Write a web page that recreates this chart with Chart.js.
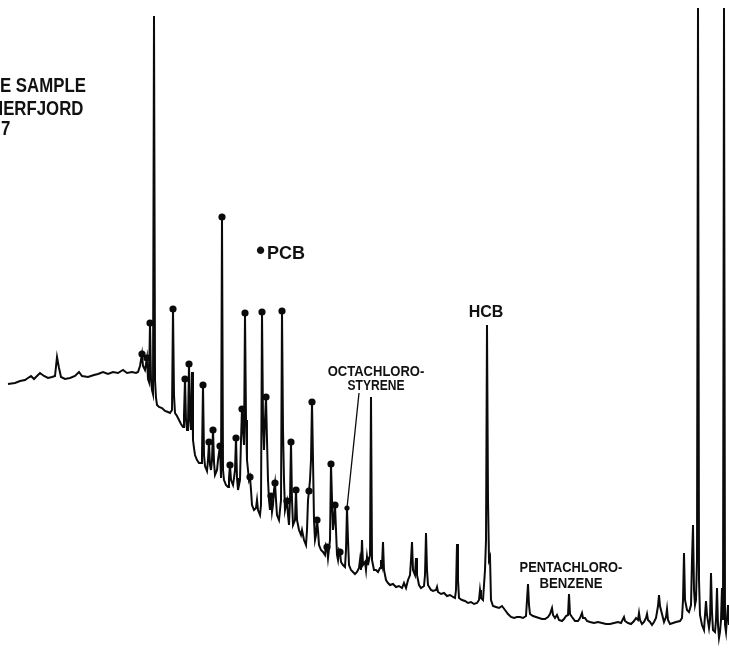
<!DOCTYPE html>
<html>
<head>
<meta charset="utf-8">
<script src="https://cdn.jsdelivr.net/npm/chart.js@4/dist/chart.umd.min.js"></script>
<style>
  html, body { margin: 0; padding: 0; background: #fff; }
  #wrap { position: relative; width: 729px; height: 651px; overflow: hidden; }
  canvas { position: absolute; left: 0; top: 0; }
  .lbl { position: absolute; font-family: "Liberation Sans", Arial, sans-serif; font-weight: bold;
         color: #111; line-height: 1; white-space: nowrap; }
</style>
</head>
<body>
<div id="wrap">
  <canvas id="c" width="729" height="651"></canvas>
</div>
<script>
// ---- Data (retention time in arbitrary units, detector response) ----
const retentionTime = [
  8,15,20,25,28,31,34,37,40,44,48,52,55,57,59,61,65,70,75,79,82,88,94,98,103,108,113,118,123,127,132,136,
  138,140,142,143,145,147,148,149,150,151,152,153,154,155,156,157,159,162,165,168,170,172,173,174,175,177,179,181,183,184,185,186,187,188,189,190,191,192,193,194,195,197,199,201,202,203,204,205,207,208,209,210,211,212,213,214,215,217,218,220,221,222,223,224,226,228,229,230,231,233,234,235,236,237,238,240,241,242,243,244,245,246,247,248,249,250,
  251,252,254,256,257,258,260,261,262,263,264,265,266,267,268,269,270,271,272,273,274,275,276,277,279,281,282,283,284,285,286,287,288,289,290,291,292,293,295,296,297,299,301,302,304,306,307,308,309,310,311,312,313,314,315,316,317,318,319,321,323,325,326,327,328,330,331,332,333,334,335,336,337,338,339,340,341,343,345,346,347,348,349,351,353,355,357,359,360,361,362,363,365,366,367,368,369,370,371,372,373,374,376,378,380,381,382,383,384,386,388,390,393,396,399,402,404,406,408,410,411,412,413,415,416,417,419,421,424,425,426,427,428,431,433,436,437,438,441,444,447,450,453,455,456,457,458,459,462,465,468,471,474,477,479,480,481,483,485,486,487,488,489,490,491,493,496,499,
  502,505,508,511,514,517,520,523,526,527,528,529,530,533,536,539,542,545,548,550,552,553,555,557,559,562,564,566,568,569,570,572,575,578,580,582,583,585,587,590,594,598,602,606,610,614,618,621,623,624,625,628,631,634,636,638,639,640,642,644,646,647,648,650,652,654,656,658,659,660,662,664,666,667,668,670,673,676,680,682,683,684,685,687,689,691,692,693,694,695,696,697,698,699,700,702,704,705,706,707,709,710,711,712,713,715,716,717,718,719,720,721,722,723,724,725,726,727,728,729
];
const response = [
  267,268,270,271,273,275,272,275,278,275,273,274,275,294,283,274,272,273,275,279,275,274,276,277,279,277,279,278,281,278,279,278,
  279,285,297,285,281,293,272,269,328,271,261,257,635,271,253,246,244,243,240,239,238,241,342,256,238,235,231,227,224,236,272,231,221,226,287,231,221,279,211,203,196,191,188,188,196,266,196,185,180,191,209,186,181,191,221,189,176,181,191,205,173,434,181,171,166,164,173,186,171,166,173,181,213,173,161,171,211,242,221,206,338,231,191,181,171,174,
  161,146,141,143,151,141,136,146,339,231,201,231,254,211,171,151,141,155,139,146,161,168,151,136,131,151,340,221,171,141,146,150,136,126,151,209,151,126,131,161,131,121,116,121,111,106,121,151,160,171,191,249,191,131,111,116,131,121,106,101,99,96,106,104,93,111,187,151,121,131,146,121,96,91,101,99,89,86,84,101,143,111,86,81,79,77,79,83,91,81,111,86,89,81,94,86,91,96,254,91,86,81,81,79,83,91,86,109,81,71,68,66,67,64,65,63,68,63,71,76,91,109,81,76,93,76,66,63,65,76,118,81,66,61,60,61,64,59,57,58,55,56,54,53,61,107,71,53,51,50,48,49,47,48,51,61,53,51,81,111,326,151,91,94,51,45,44,43,
  45,41,37,34,33,34,34,33,35,51,67,46,37,35,34,33,32,32,34,37,43,36,33,36,31,30,32,35,36,57,37,34,30,30,33,38,33,33,30,29,28,29,28,27,27,28,29,28,32,34,30,28,27,30,33,31,38,31,27,29,33,37,31,29,26,29,33,45,56,45,37,29,34,42,31,27,28,29,30,33,51,98,51,41,39,46,91,126,61,46,51,91,643,71,36,26,21,36,50,36,23,31,78,39,21,19,31,63,26,13,19,31,63,31,643,26,19,33,46,26
];
// PCB congeners (marked with a dot)
const pcbTime = [142,147,150,173,185,189,203,209,213,220,222,230,236,242,245,250,262,266,271,275,282,287,291,296,309,312,317,327,331,335,340];
const pcbResponse = [297,293,328,342,272,287,266,209,221,205,434,186,213,242,338,174,339,254,155,168,340,150,209,161,160,249,131,104,187,146,99];
// Octachlorostyrene peak (arrowed)
const octaTime = [347];
const octaResponse = [143];
// Text labels
const titleLines = ["E SAMPLE", "HERFJORD", "7"];
const legendText = "PCB";
const peakLabels = ["OCTACHLORO-", "STYRENE", "HCB", "PENTACHLORO-", "BENZENE"];

// ---- Build datasets ----
const trace = retentionTime.map((t, i) => ({ x: t, y: response[i] }));
const pcb = pcbTime.map((t, i) => ({ x: t, y: pcbResponse[i] }));
const arrowAnchor = { x: 359, y: 258 }; // bottom of the OCTACHLORO-STYRENE label
const arrow = [arrowAnchor, { x: octaTime[0], y: octaResponse[0] }];

new Chart(document.getElementById('c'), {
  type: 'scatter',
  data: {
    datasets: [
      { data: trace, showLine: true, borderColor: '#0a0a0a', borderWidth: 2, pointRadius: 0, tension: 0, order: 3 },
      { data: pcb, showLine: false, pointRadius: 3.6, pointBackgroundColor: '#0a0a0a', pointBorderWidth: 0, order: 1 },
      { data: arrow, showLine: true, borderColor: '#0a0a0a', borderWidth: 1.3,
        pointRadius: [0, 2.6], pointBackgroundColor: '#0a0a0a', pointBorderWidth: 0, order: 2 }
    ]
  },
  options: {
    responsive: false,
    animation: false,
    layout: { padding: 0, autoPadding: false },
    plugins: { legend: { display: false }, tooltip: { enabled: false } },
    scales: {
      x: { type: 'linear', min: 0, max: 729, display: false },
      y: { type: 'linear', min: 0, max: 651, display: false }
    }
  }
});

// ---- Text overlays (real text) ----
const wrap = document.getElementById('wrap');
function addLabel(html, opts) {
  const d = document.createElement('div');
  d.className = 'lbl';
  d.innerHTML = html;
  const f = opts.size;
  d.style.fontSize = f + 'px';
  d.style.top = (opts.baseline - 0.8465 * f) + 'px';
  d.style.left = opts.x + 'px';
  if (opts.weight) d.style.fontWeight = opts.weight;
  const sx = opts.sx || 1;
  d.style.transformOrigin = '0 0';
  d.style.transform = opts.center ? 'scaleX(' + sx + ') translateX(-50%)' : 'scaleX(' + sx + ')';
  wrap.appendChild(d);
}
addLabel(titleLines[0], { x: 0, baseline: 92, size: 21, sx: 0.8 });
addLabel(titleLines[1], { x: -9, baseline: 115, size: 21, sx: 0.8 });
addLabel(titleLines[2], { x: 1, baseline: 135, size: 21, sx: 0.8 });
addLabel('<span style="font-size:26px">&bull;</span><span style="margin-left:2px">' + legendText + '</span>',
         { x: 256, baseline: 252, size: 18 });
addLabel(peakLabels[0], { x: 376, baseline: 376, size: 14, sx: 0.93, center: true });
addLabel(peakLabels[1], { x: 375.5, baseline: 389.5, size: 14, sx: 0.86, center: true });
addLabel(peakLabels[2], { x: 486, baseline: 318, size: 16, center: true });
addLabel(peakLabels[3], { x: 571, baseline: 572, size: 14, sx: 0.92, center: true });
addLabel(peakLabels[4], { x: 570.5, baseline: 588, size: 14, sx: 0.94, center: true });
</script>
</body>
</html>
